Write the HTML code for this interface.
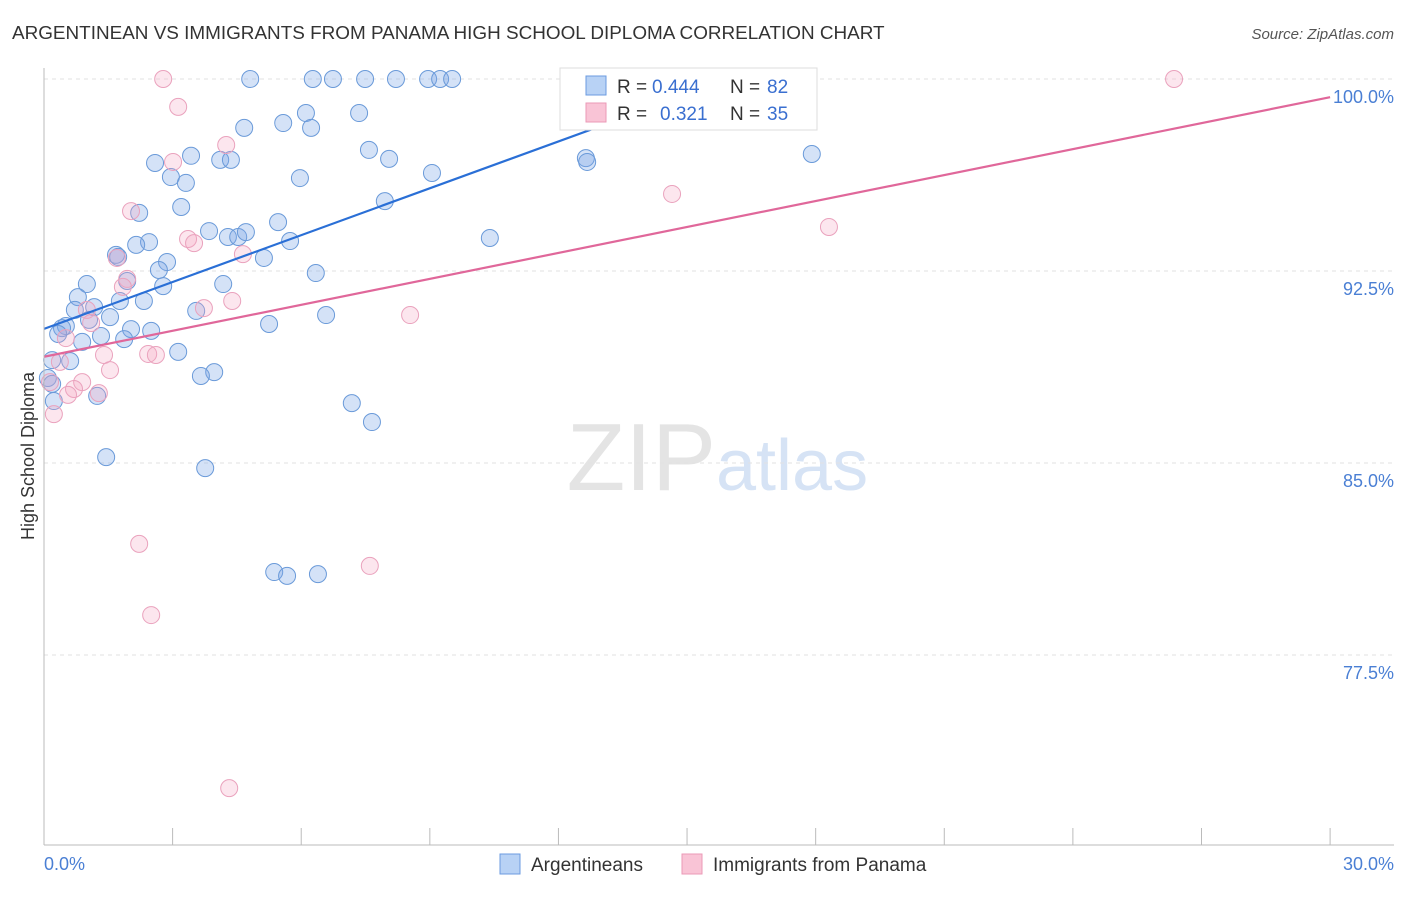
<!DOCTYPE html>
<html><head><meta charset="utf-8"><style>
body{margin:0;background:#fff;font-family:"Liberation Sans",sans-serif;}
svg text{font-family:"Liberation Sans",sans-serif;}
</style></head><body>
<svg id="chart" width="1406" height="892">
<text x="12" y="39" font-size="18.9" fill="#333">ARGENTINEAN VS IMMIGRANTS FROM PANAMA HIGH SCHOOL DIPLOMA CORRELATION CHART</text>
<text x="1394" y="39" font-size="15" fill="#555" font-style="italic" text-anchor="end">Source: ZipAtlas.com</text>
<text x="34" y="456" font-size="18" fill="#333" transform="rotate(-90 34 456)" text-anchor="middle">High School Diploma</text>
<text x="716" y="490" font-size="96" fill="#e4e4e4" font-family="Liberation Serif" text-anchor="end">ZIP</text>
<text x="716" y="490" font-size="72" fill="#d6e3f5">atlas</text>
<g id="grid"></g><g id="pts"></g><g id="lines"></g>
<line x1="44" y1="68" x2="44" y2="845" stroke="#bbb"/>
<line x1="44" y1="845" x2="1394" y2="845" stroke="#bbb"/>
<text x="44" y="870" font-size="18" fill="#4a7fd4">0.0%</text>
<text x="1394" y="870" font-size="18" fill="#4a7fd4" text-anchor="end">30.0%</text>
<g>
<rect x="560" y="68" width="257" height="62" fill="#fff" stroke="#ddd"/>
<rect x="586" y="76" width="20" height="19" fill="#b8d2f5" stroke="#6b9be0"/>
<rect x="586" y="103" width="20" height="19" fill="#f9c4d6" stroke="#eb9ab7"/>
<text y="93" font-size="19" fill="#333"><tspan x="617">R =</tspan><tspan x="652" fill="#3a6fd0">0.444</tspan><tspan x="730">N =</tspan><tspan x="767" fill="#3a6fd0">82</tspan></text>
<text y="120" font-size="19" fill="#333"><tspan x="617">R =</tspan><tspan x="660" fill="#3a6fd0">0.321</tspan><tspan x="730">N =</tspan><tspan x="767" fill="#3a6fd0">35</tspan></text>
</g>
<g>
<rect x="500" y="854" width="20" height="20" fill="#b8d2f5" stroke="#6b9be0"/>
<text x="531" y="871" font-size="19" fill="#333">Argentineans</text>
<rect x="682" y="854" width="20" height="20" fill="#f9c4d6" stroke="#eb9ab7"/>
<text x="713" y="871" font-size="19" fill="#333">Immigrants from Panama</text>
</g>
</svg>
<script>
const yTicks=[100,92.5,85,77.5];
const yTickLabels=["100.0%","92.5%","85.0%","77.5%"];
const xTicks=[0,3,6,9,12,15,18,21,24,27,30];
const blueX=[4.81,6.27,6.74,7.49,8.21,8.96,9.24,9.52,6.11,7.35,4.67,5.58,6.23,7.58,8.05,3.43,2.59,4.11,4.36,2.96,3.31,5.97,9.05,12.64,12.67,17.91,3.20,7.95,2.22,5.46,3.85,4.29,4.53,4.71,2.45,2.15,5.74,10.40,1.68,1.73,2.87,5.13,2.68,6.34,1.00,1.94,2.78,4.18,0.79,1.17,1.77,2.33,0.72,3.55,1.54,1.05,0.51,0.42,5.25,6.58,2.03,2.50,0.33,1.33,1.87,0.89,3.13,0.61,0.19,3.97,3.66,0.09,0.19,0.23,1.24,7.18,7.65,1.45,3.76,5.37,5.67,6.39];
const blueY=[100,100,100,100,100,100,100,100,98.67,98.67,98.09,98.28,98.09,97.23,96.88,97.0,96.72,96.84,96.84,96.17,95.94,96.13,96.33,96.91,96.76,97.07,95.0,95.23,94.77,94.41,94.06,93.83,93.83,94.02,93.63,93.52,93.67,93.79,93.13,93.05,92.85,93.01,92.54,92.42,91.99,92.11,91.91,91.99,91.48,91.09,91.33,91.33,90.98,90.94,90.70,90.59,90.35,90.27,90.43,90.78,90.23,90.16,90.04,89.96,89.84,89.73,89.34,88.98,89.02,88.55,88.40,88.32,88.09,87.42,87.62,87.34,86.60,85.23,84.80,80.74,80.59,80.66];
const pinkX=[2.78,26.36,3.13,3.01,4.25,2.03,14.65,18.31,3.36,3.50,1.70,4.64,1.94,1.84,4.39,3.73,1.00,8.54,1.10,0.51,2.43,2.61,1.40,0.37,1.54,0.89,0.70,1.28,0.56,0.23,0.14,2.22,7.60,2.50,4.32];
const pinkY=[100,100,98.91,96.76,97.42,94.84,95.51,94.22,93.75,93.59,93.01,93.16,92.19,91.88,91.33,91.05,90.98,90.78,90.47,89.88,89.26,89.22,89.22,88.95,88.63,88.16,87.89,87.73,87.66,86.91,88.16,81.84,80.98,79.06,72.30];
const blueFit=[90.24,0.61];
const pinkFit=[89.15,0.338];
const NS="http://www.w3.org/2000/svg";
const sx=v=>44+v*42.87;
const sy=v=>79+(100-v)*25.6;
function mk(tag,attrs,parent){const e=document.createElementNS(NS,tag);for(const k in attrs)e.setAttribute(k,attrs[k]);parent.appendChild(e);return e;}
const grid=document.getElementById('grid');
yTicks.forEach((t,i)=>{
 const l=mk('line',{x1:44,x2:1394,y1:sy(t),y2:sy(t),stroke:'#e2e2e2','stroke-dasharray':'4,4'},grid);
 
 
 const tx=mk('text',{x:1394,y:sy(t)+24,'font-size':18,fill:'#4a7fd4','text-anchor':'end'},grid);
 tx.textContent=yTickLabels[i];
 
 
});
xTicks.forEach(t=>{
 if(t===0)return;
 const l=mk('line',{x1:sx(t),x2:sx(t),y1:828,y2:845,stroke:'#bbb'},grid);
 
 
});
const pts=document.getElementById('pts');
blueX.forEach((x,i)=>{
 const c=mk('circle',{cx:sx(x),cy:sy(blueY[i]),r:8.5,fill:'rgba(120,165,230,0.32)',stroke:'#6a9ad9','stroke-width':1},pts);
 
 
});
pinkX.forEach((x,i)=>{
 const c=mk('circle',{cx:sx(x),cy:sy(pinkY[i]),r:8.5,fill:'rgba(245,165,195,0.28)',stroke:'#eaa2bd','stroke-width':1},pts);
 
 
});
const lines=document.getElementById('lines');
const bEnd=(100-blueFit[0])/blueFit[1];
const bl=mk('line',{x1:sx(0),y1:sy(blueFit[0]),x2:sx(bEnd),y2:sy(100),stroke:'#2a6fd6','stroke-width':2.2},lines);


const pl=mk('line',{x1:sx(0),y1:sy(pinkFit[0]),x2:sx(30),y2:sy(pinkFit[0]+30*pinkFit[1]),stroke:'#e0679a','stroke-width':2.2},lines);


</script>
</body></html>
